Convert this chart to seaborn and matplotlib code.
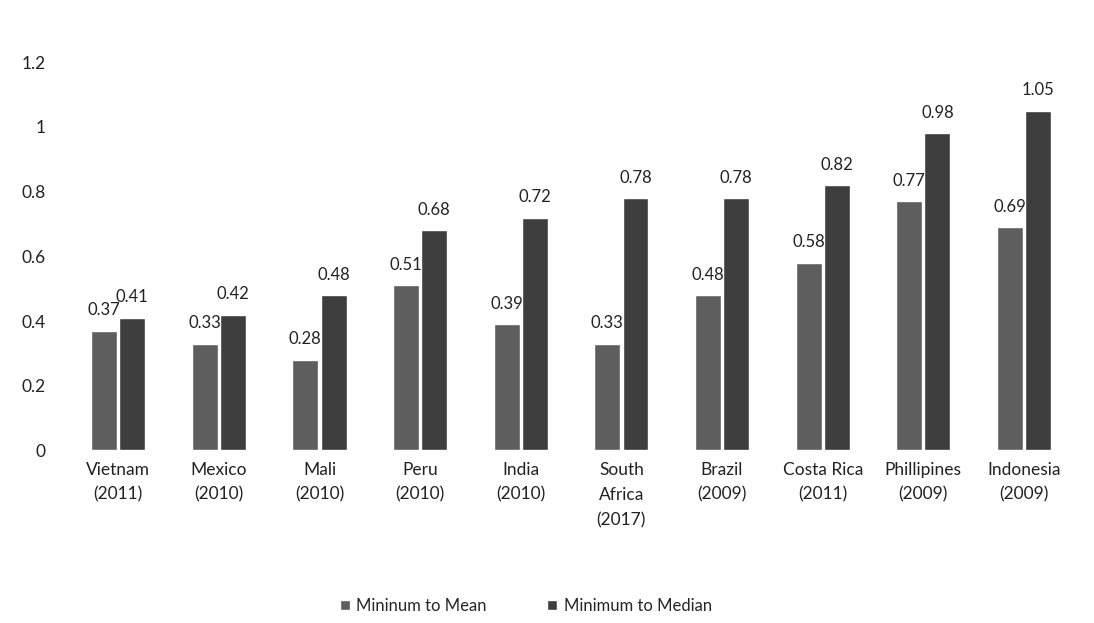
import pandas as pd
import matplotlib.pyplot as plt
import seaborn as sns

countries = [
    "Vietnam\n(2011)", "Mexico\n(2010)", "Mali\n(2010)", "Peru\n(2010)",
    "India\n(2010)", "South\nAfrica\n(2017)", "Brazil\n(2009)",
    "Costa Rica\n(2011)", "Phillipines\n(2009)", "Indonesia\n(2009)",
]
min_to_mean = [0.37, 0.33, 0.28, 0.51, 0.39, 0.33, 0.48, 0.58, 0.77, 0.69]
min_to_median = [0.41, 0.42, 0.48, 0.68, 0.72, 0.78, 0.78, 0.82, 0.98, 1.05]
series_names = ["Mininum to Mean", "Minimum to Median"]
colors = ["#5e5e5e", "#3e3e3e"]

df = pd.DataFrame({
    "Country": countries * 2,
    "Value": min_to_mean + min_to_median,
    "Series": [series_names[0]] * len(countries) + [series_names[1]] * len(countries),
})

sns.set_style("white")
plt.rcParams["font.family"] = ["Lato", "DejaVu Sans"]

fig, ax = plt.subplots(figsize=(10.94, 6.23), dpi=100)
sns.barplot(
    data=df, x="Country", y="Value", hue="Series",
    palette=colors, width=0.56, gap=0.08, ax=ax, saturation=1,
)

for container in ax.containers:
    ax.bar_label(container, fmt="%g", padding=9, fontsize=12, color="#222222")

ax.set_ylim(0, 1.2)
ax.set_yticks([0, 0.2, 0.4, 0.6, 0.8, 1.0, 1.2])
ax.set_yticklabels(["0", "0.2", "0.4", "0.6", "0.8", "1", "1.2"])
ax.set_xlim(-0.5, 9.5)
ax.set_xlabel("")
ax.set_ylabel("")
ax.tick_params(axis="both", length=0, labelsize=12.5, colors="#222222")
ax.tick_params(axis="y", pad=16)
ax.tick_params(axis="x", pad=8)
for lbl in ax.get_xticklabels():
    lbl.set_linespacing(1.7)
sns.despine(left=True, bottom=True)

ax.legend(
    loc="center", bbox_to_anchor=(0.455, -0.40), ncol=2, frameon=False,
    fontsize=12, handlelength=0.6, handleheight=0.6, columnspacing=3.6,
    handletextpad=0.4,
)

plt.subplots_adjust(left=0.062, right=0.982, top=0.9, bottom=0.277)
plt.savefig("out.png", dpi=100)
